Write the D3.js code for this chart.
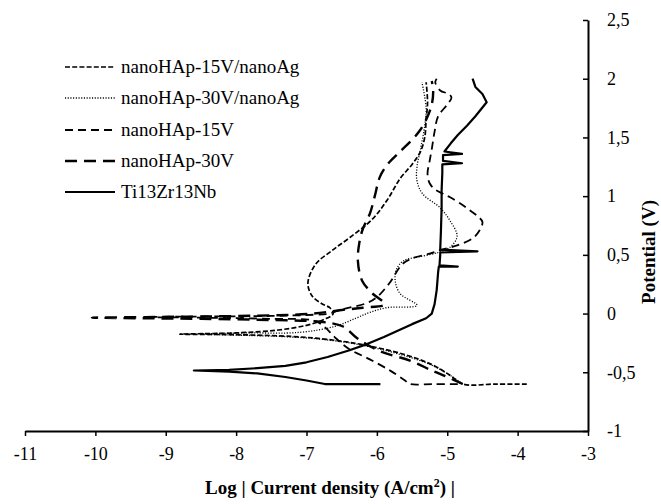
<!DOCTYPE html>
<html>
<head>
<meta charset="utf-8">
<script src="https://cdn.jsdelivr.net/npm/d3@7"></script>
<style>
  html, body { margin: 0; padding: 0; background: #fff; }
  svg { display: block; }
  svg text { font-family: "Liberation Serif", "DejaVu Serif", "Times New Roman", Times, serif !important; fill: #000; }
</style>
</head>
<body>
<svg id="chart" width="661" height="504"></svg>
<script>
// ---------- data ----------
const seriesNames = ["nanoHAp-15V/nanoAg", "nanoHAp-30V/nanoAg", "nanoHAp-15V", "nanoHAp-30V", "Ti13Zr13Nb"];

const xTickValues = [-11, -10, -9, -8, -7, -6, -5, -4, -3];
const xTickLabels = ["-11", "-10", "-9", "-8", "-7", "-6", "-5", "-4", "-3"];
const yTickValues = [-1, -0.5, 0, 0.5, 1, 1.5, 2, 2.5];
const yTickLabels = ["-1", "-0,5", "0", "0,5", "1", "1,5", "2", "2,5"];

// [log current density, potential]
const hap15Ag = [
  [-3.87,-0.6],[-4.3,-0.6],[-4.78,-0.6],[-4.95,-0.53],[-5.2,-0.44],[-5.6,-0.35],[-6.2,-0.265],
  [-6.7,-0.22],[-7.2,-0.195],[-8.0,-0.18],[-8.8,-0.175],[-8.0,-0.165],[-7.4,-0.14],[-7.0,-0.1],
  [-6.75,-0.05],[-6.62,0.0],[-6.67,0.05],[-6.77,0.08],[-6.92,0.15],[-6.98,0.26],[-6.87,0.42],
  [-6.63,0.54],[-6.38,0.65],[-6.07,0.8],[-5.85,0.97],[-5.67,1.15],[-5.5,1.27],[-5.38,1.38],
  [-5.32,1.5],[-5.3,1.65],[-5.28,1.8],[-5.3,1.97]
];
const hap30Ag = [
  [-4.78,-0.6],[-4.95,-0.53],[-5.2,-0.445],[-5.6,-0.36],[-6.2,-0.27],[-6.7,-0.225],[-7.2,-0.2],
  [-7.9,-0.185],[-8.5,-0.175],[-7.9,-0.165],[-7.1,-0.16],[-6.6,-0.11],[-6.3,-0.04],[-6.1,0.01],
  [-5.86,0.05],[-5.43,0.07],[-5.67,0.17],[-5.74,0.28],[-5.72,0.38],[-5.62,0.45],[-5.43,0.48],
  [-5.13,0.52],[-4.95,0.57],[-4.86,0.66],[-4.96,0.79],[-5.1,0.9],[-5.35,1.02],[-5.43,1.13],
  [-5.43,1.25],[-5.38,1.4],[-5.32,1.6],[-5.3,1.75],[-5.36,1.97]
];
const hap15 = [
  [-4.85,-0.6],[-5.2,-0.6],[-5.53,-0.6],[-5.6,-0.57],[-5.8,-0.49],[-6.1,-0.39],[-6.4,-0.3],
  [-6.6,-0.2],[-6.75,-0.11],[-6.9,-0.06],[-7.5,-0.045],[-8.5,-0.035],[-9.3,-0.03],[-8.5,-0.025],
  [-7.5,-0.02],[-6.9,-0.01],[-6.67,0.0],[-6.53,0.03],[-6.14,0.09],[-6.0,0.14],[-5.82,0.26],
  [-5.64,0.42],[-5.5,0.47],[-5.25,0.51],[-5.1,0.54],[-4.86,0.58],[-4.64,0.64],[-4.54,0.71],
  [-4.5,0.78],[-4.57,0.83],[-4.68,0.88],[-4.82,0.94],[-4.96,0.99],[-5.06,1.02],[-5.18,1.06],
  [-5.25,1.11],[-5.28,1.19],[-5.25,1.3],[-5.22,1.4],[-5.18,1.55],[-5.13,1.68],[-5.0,1.78],
  [-4.94,1.84],[-4.98,1.87],[-5.1,1.9],[-5.17,1.97],[-5.15,2.0]
];
const hap30 = [
  [-4.78,-0.6],[-5.0,-0.54],[-5.2,-0.49],[-5.53,-0.4],[-5.96,-0.32],[-6.28,-0.21],[-6.48,-0.11],
  [-6.8,-0.07],[-7.5,-0.055],[-8.5,-0.045],[-9.3,-0.04],[-10.05,-0.035],[-9.3,-0.03],[-8.5,-0.025],
  [-7.5,-0.015],[-6.9,0.0],[-6.5,0.03],[-6.2,0.05],[-5.89,0.08],[-6.06,0.17],[-6.21,0.28],
  [-6.27,0.45],[-6.25,0.6],[-6.2,0.72],[-6.1,0.85],[-6.03,1.0],[-5.96,1.16],[-5.85,1.27],
  [-5.67,1.38],[-5.5,1.48],[-5.4,1.55],[-5.3,1.65],[-5.22,1.78],[-5.2,1.9],[-5.22,1.98]
];
const ti = [
  [-5.95,-0.6],[-6.3,-0.6],[-6.74,-0.6],[-7.0,-0.57],[-7.3,-0.54],[-7.7,-0.51],[-8.1,-0.495],
  [-8.6,-0.485],[-8.1,-0.48],[-7.7,-0.465],[-7.3,-0.445],[-7.0,-0.415],[-6.7,-0.37],[-6.4,-0.315],
  [-6.14,-0.26],[-5.9,-0.2],[-5.72,-0.15],[-5.5,-0.09],[-5.3,-0.04],[-5.22,0.0],[-5.18,0.08],
  [-5.15,0.2],[-5.13,0.35],[-5.12,0.4],[-4.85,0.4],[-5.11,0.41],[-5.1,0.5],[-5.1,0.52],
  [-4.57,0.53],[-5.1,0.545],[-5.09,0.7],[-5.08,0.9],[-5.08,1.05],[-5.07,1.2],[-5.07,1.27],
  [-4.79,1.28],[-5.06,1.3],[-5.06,1.35],[-4.79,1.36],[-5.04,1.38],[-4.95,1.45],[-4.85,1.52],
  [-4.72,1.6],[-4.6,1.68],[-4.44,1.8],[-4.5,1.87],[-4.6,1.93],[-4.64,2.0]
];
const seriesData = [hap15Ag, hap30Ag, hap15, hap30, ti];

// ---------- styles ----------
const FONT = "'Liberation Serif', 'DejaVu Serif', 'Times New Roman', serif";
const styles = [
  { dash: "5,2.2", width: 1.7, curve: true },
  { dash: "1.1,1.6", width: 1.3, curve: true },
  { dash: "8,5", width: 1.8, curve: true },
  { dash: "12,7", width: 2.4, curve: true },
  { dash: null, width: 2.2, curve: false }
];

const svg = d3.select("#chart");
const x = d3.scaleLinear().domain([-11, -3]).range([25, 588]);
const y = d3.scaleLinear().domain([-1, 2.5]).range([431, 20]);

// axes
const xAxis = d3.axisBottom(x).tickValues(xTickValues)
  .tickFormat((d, i) => xTickLabels[i]).tickSizeInner(5).tickSizeOuter(0).tickPadding(11);
const gx = svg.append("g").attr("transform", `translate(0,${y(-1)})`).call(xAxis)
  .attr("font-family", FONT).attr("font-size", 18);
gx.selectAll("text").style("font-size", "18px");

const yAxis = d3.axisRight(y).tickValues(yTickValues)
  .tickFormat((d, i) => yTickLabels[i]).tickSizeInner(-5).tickSizeOuter(0).tickPadding(19);
const gy = svg.append("g").attr("transform", `translate(${x(-3)},0)`).call(yAxis)
  .attr("font-family", FONT).attr("font-size", 18);
gy.selectAll("text").style("font-size", "18px");

svg.selectAll(".domain").attr("stroke", "#000").attr("stroke-width", 2);
svg.selectAll(".tick line").attr("stroke", "#000").attr("stroke-width", 1.5);

// curves
seriesData.forEach((data, i) => {
  const st = styles[i];
  const line = d3.line().x(d => x(d[0])).y(d => y(d[1]))
    .curve(st.curve ? d3.curveCatmullRom.alpha(0.5) : d3.curveLinear);
  svg.append("path").datum(data)
    .attr("d", line)
    .attr("fill", "none")
    .attr("stroke", "#000")
    .attr("stroke-width", st.width)
    .attr("stroke-linejoin", "round")
    .attr("stroke-dasharray", st.dash);
});

// legend
const legendY = [67, 98, 130, 161, 192];
const lg = svg.append("g").attr("font-family", FONT);
seriesNames.forEach((name, i) => {
  const st = styles[i];
  lg.append("line").attr("x1", 65).attr("x2", 115).attr("y1", legendY[i]).attr("y2", legendY[i])
    .attr("stroke", "#000").attr("stroke-width", st.width).attr("stroke-dasharray", st.dash);
  lg.append("text").attr("x", 121).attr("y", legendY[i] + 6).style("font-size", "19px").text(name);
});

// axis titles
const xt = svg.append("text").attr("x", 330).attr("y", 494).attr("text-anchor", "middle")
  .attr("font-family", FONT).style("font-size", "19px").style("font-weight", "bold");
xt.append("tspan").text("Log | Current density (A/cm");
xt.append("tspan").attr("dy", -7).style("font-size", "12px").text("2");
xt.append("tspan").attr("dy", 7).text(") |");

svg.append("text").attr("transform", "translate(655,252) rotate(-90)")
  .attr("font-family", FONT)
  .attr("text-anchor", "middle").style("font-size", "19px").style("font-weight", "bold")
  .text("Potential (V)");
</script>
</body>
</html>
